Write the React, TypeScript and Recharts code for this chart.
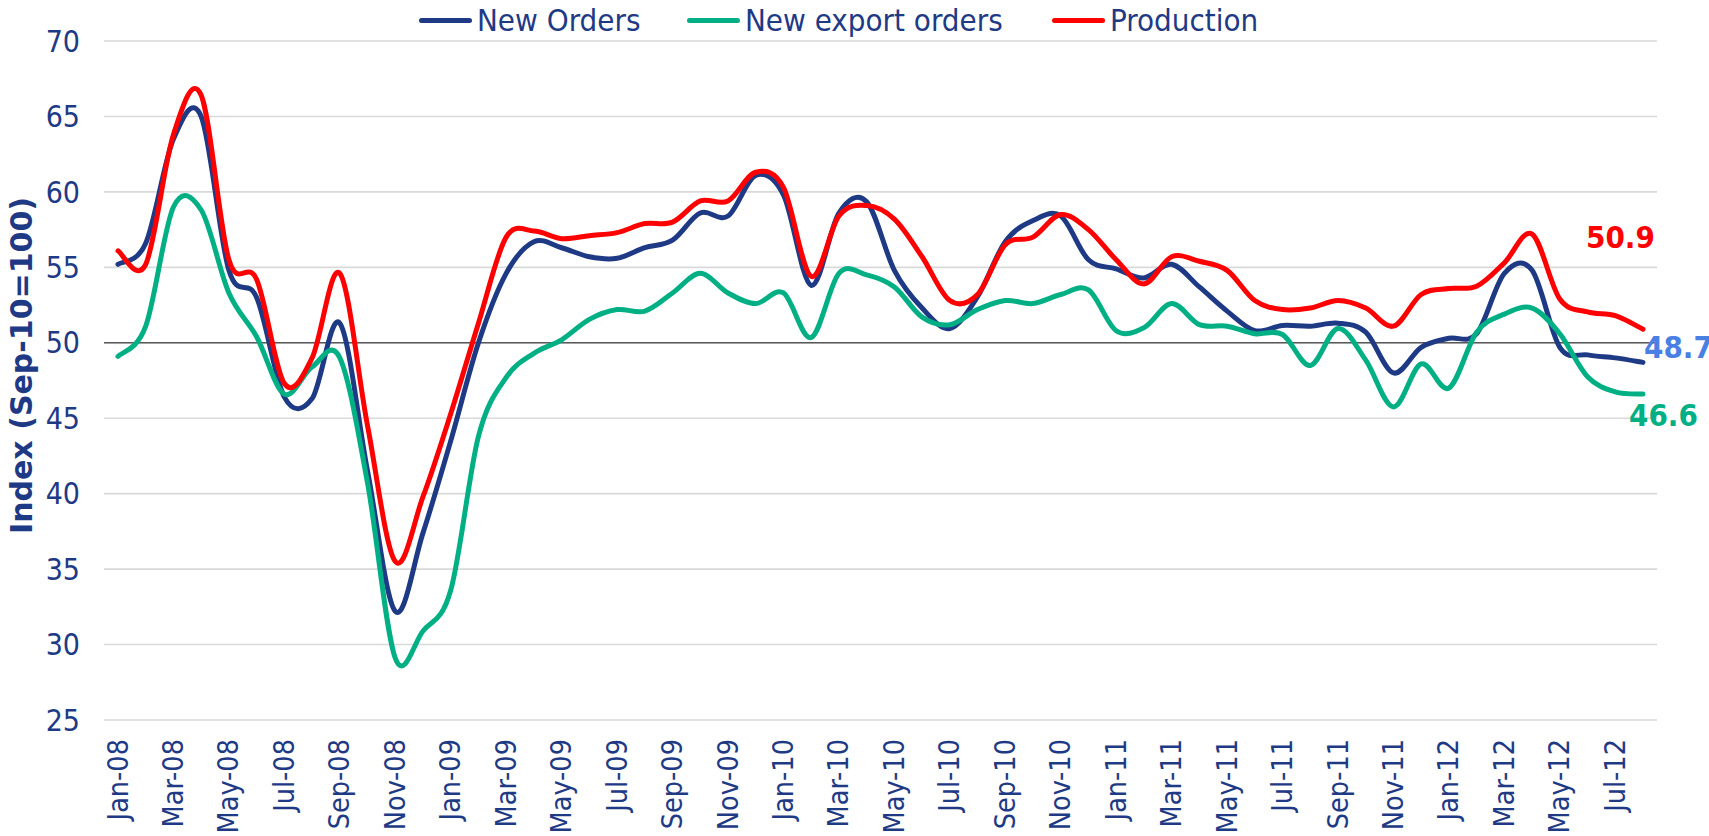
import React from 'react';
import { LineChart, Line, XAxis, YAxis, CartesianGrid, ReferenceLine } from 'recharts';

const months = [
  'Jan-08','Feb-08','Mar-08','Apr-08','May-08','Jun-08','Jul-08','Aug-08','Sep-08','Oct-08','Nov-08','Dec-08',
  'Jan-09','Feb-09','Mar-09','Apr-09','May-09','Jun-09','Jul-09','Aug-09','Sep-09','Oct-09','Nov-09','Dec-09',
  'Jan-10','Feb-10','Mar-10','Apr-10','May-10','Jun-10','Jul-10','Aug-10','Sep-10','Oct-10','Nov-10','Dec-10',
  'Jan-11','Feb-11','Mar-11','Apr-11','May-11','Jun-11','Jul-11','Aug-11','Sep-11','Oct-11','Nov-11','Dec-11',
  'Jan-12','Feb-12','Mar-12','Apr-12','May-12','Jun-12','Jul-12','Aug-12',
];

const newOrders = [
  55.2, 56.6, 63.5, 65.0, 54.8, 53.0, 46.4, 46.3, 51.3, 41.5, 32.2, 37.4,
  43.5, 50.0, 54.6, 56.7, 56.3, 55.7, 55.6, 56.3, 56.8, 58.6, 58.4, 61.1,
  59.8, 53.8, 58.6, 59.35, 54.8, 52.3, 50.95, 53.05, 56.7, 58.1, 58.4, 55.5,
  54.9, 54.3, 55.2, 53.7, 52.1, 50.8, 51.15, 51.1, 51.3, 50.7, 48.0, 49.7,
  50.3, 50.6, 54.6, 54.8, 49.7, 49.2, 49.0, 48.7,
];

const exportOrders = [
  49.1, 51.1, 59.0, 58.8, 53.3, 50.4, 46.6, 48.4, 49.0, 40.7, 29.1, 30.9,
  33.6, 43.8, 47.7, 49.3, 50.2, 51.55, 52.2, 52.1, 53.3, 54.6, 53.3, 52.6,
  53.3, 50.35, 54.6, 54.5, 53.7, 51.7, 51.2, 52.2, 52.8, 52.6, 53.2, 53.5,
  50.8, 51.0, 52.6, 51.2, 51.1, 50.6, 50.55, 48.5, 50.95, 48.85, 45.75, 48.6,
  47.0, 50.7, 51.9, 52.3, 50.6, 47.75, 46.75, 46.6,
];

const production = [
  56.1, 55.2, 63.8, 66.4, 55.5, 54.2, 47.3, 49.0, 54.6, 44.5, 35.5, 39.8,
  45.3, 51.3, 57.0, 57.4, 56.9, 57.1, 57.3, 57.9, 58.0, 59.4, 59.4, 61.3,
  60.3, 54.4, 58.4, 59.1, 58.2, 55.7, 52.8, 53.2, 56.5, 57.0, 58.5, 57.5,
  55.5, 53.9, 55.7, 55.4, 54.8, 52.8, 52.2, 52.3, 52.8, 52.3, 51.1, 53.2,
  53.6, 53.75, 55.3, 57.2, 52.9, 52.05, 51.8, 50.9,
];

const yTicks = [25, 30, 35, 40, 45, 50, 55, 60, 65, 70];

const data = months.map((m, i) => ({
  month: m,
  newOrders: newOrders[i],
  exportOrders: exportOrders[i],
  production: production[i],
}));

const NAVY = '#1F3A85';
const GREEN = '#00B084';
const RED = '#FF0000';
const FONT = "'DejaVu Sans Condensed', 'DejaVu Sans', sans-serif";
const LAST = months.length - 1;

// Excel-like smoothed line (Catmull-Rom style Bezier, 1/6 control handles)
const excelSmooth = (context: any) => {
  let pts: number[][] = [];
  return {
    areaStart() {},
    areaEnd() {},
    lineStart() { pts = []; },
    point(x: number, y: number) { pts.push([+x, +y]); },
    lineEnd() {
      const n = pts.length;
      if (!n) return;
      context.moveTo(pts[0][0], pts[0][1]);
      for (let i = 0; i < n - 1; i++) {
        const p0 = pts[Math.max(i - 1, 0)];
        const p1 = pts[i];
        const p2 = pts[i + 1];
        const p3 = pts[Math.min(i + 2, n - 1)];
        context.bezierCurveTo(
          p1[0] + (p2[0] - p0[0]) / 6, p1[1] + (p2[1] - p0[1]) / 6,
          p2[0] - (p3[0] - p1[0]) / 6, p2[1] - (p3[1] - p1[1]) / 6,
          p2[0], p2[1],
        );
      }
    },
  };
};

const endLabel = (color: string, dx: number, dy: number) => (props: any) => {
  if (props.index !== LAST) return null;
  const x = props.x ?? props.viewBox?.x;
  const y = props.y ?? props.viewBox?.y;
  return (
    <text
      x={x + dx}
      y={y + dy}
      fill={color}
      fontFamily={FONT}
      fontWeight="bold"
      fontSize={31}
      textAnchor="start"
      dominantBaseline="central"
    >
      {Number(props.value).toFixed(1)}
    </text>
  );
};

const XTick = (props: any) => {
  const { x, payload } = props;
  const y = props.y - 1;
  return (
    <text
      x={x}
      y={y}
      transform={`rotate(-90, ${x}, ${y})`}
      textAnchor="end"
      dominantBaseline="central"
      fill={NAVY}
      fontFamily={FONT}
      fontSize={28.5}
    >
      {payload.value}
    </text>
  );
};

const YLabel = (props: any) => {
  const vb = props.viewBox || { x: 0, y: 41, width: 104, height: 679 };
  const cx = vb.x + 21;
  const cy = vb.y + vb.height / 2 - 15;
  return (
    <text
      x={cx}
      y={cy}
      transform={`rotate(-90, ${cx}, ${cy})`}
      textAnchor="middle"
      dominantBaseline="central"
      fill={NAVY}
      fontFamily="'DejaVu Sans', sans-serif"
      fontWeight="bold"
      fontSize={30}
    >
      Index (Sep-10=100)
    </text>
  );
};

const legendItems = [
  { name: 'New Orders', color: NAVY, left: 419 },
  { name: 'New export orders', color: GREEN, left: 687 },
  { name: 'Production', color: RED, left: 1052 },
];

export default function App() {
  return (
    <div style={{ position: 'absolute', left: 0, top: 0, width: 1709, height: 836, background: '#fff', overflow: 'hidden' }}>
      <LineChart
        width={1709}
        height={836}
        data={data}
        margin={{ top: 41, right: 52, bottom: 0, left: 0 }}
      >
        <CartesianGrid horizontal vertical={false} stroke="#D9D9D9" strokeWidth={1.6} />
        <XAxis
          dataKey="month"
          interval={1}
          axisLine={false}
          tickLine={false}
          tickSize={0}
          tickMargin={20}
          height={116}
          padding={{ left: 14, right: 14 }}
          tick={<XTick />}
        />
        <YAxis
          domain={[25, 70]}
          ticks={yTicks}
          interval={0}
          axisLine={false}
          tickLine={false}
          tickSize={0}
          tickMargin={24}
          width={104}
          tick={{ fill: NAVY, fontSize: 30, fontFamily: FONT }}
          label={<YLabel />}
        />
        <ReferenceLine y={50} stroke="#595959" strokeWidth={1.6} />
        <Line
          dataKey="newOrders"
          name="New Orders"
          type={excelSmooth as any}
          stroke={NAVY}
          strokeWidth={5}
          strokeLinecap="round"
          strokeLinejoin="round"
          dot={false}
          activeDot={false}
          isAnimationActive={false}
          label={endLabel('#4A7FE3', 1, -15)}
        />
        <Line
          dataKey="exportOrders"
          name="New export orders"
          type={excelSmooth as any}
          stroke={GREEN}
          strokeWidth={5}
          strokeLinecap="round"
          strokeLinejoin="round"
          dot={false}
          activeDot={false}
          isAnimationActive={false}
          label={endLabel(GREEN, -14, 21)}
        />
        <Line
          dataKey="production"
          name="Production"
          type={excelSmooth as any}
          stroke={RED}
          strokeWidth={5}
          strokeLinecap="round"
          strokeLinejoin="round"
          dot={false}
          activeDot={false}
          isAnimationActive={false}
          label={endLabel(RED, -57, -92)}
        />
      </LineChart>
      {legendItems.map((it) => (
        <div
          key={it.name}
          style={{
            position: 'absolute',
            left: it.left,
            top: 0,
            height: 40,
            display: 'flex',
            alignItems: 'center',
            fontFamily: FONT,
            fontSize: 31,
            color: NAVY,
            whiteSpace: 'nowrap',
          }}
        >
          <span style={{ display: 'inline-block', width: 53, height: 5, background: it.color, borderRadius: 3, marginRight: 5 }} />
          <span>{it.name}</span>
        </div>
      ))}
    </div>
  );
}
